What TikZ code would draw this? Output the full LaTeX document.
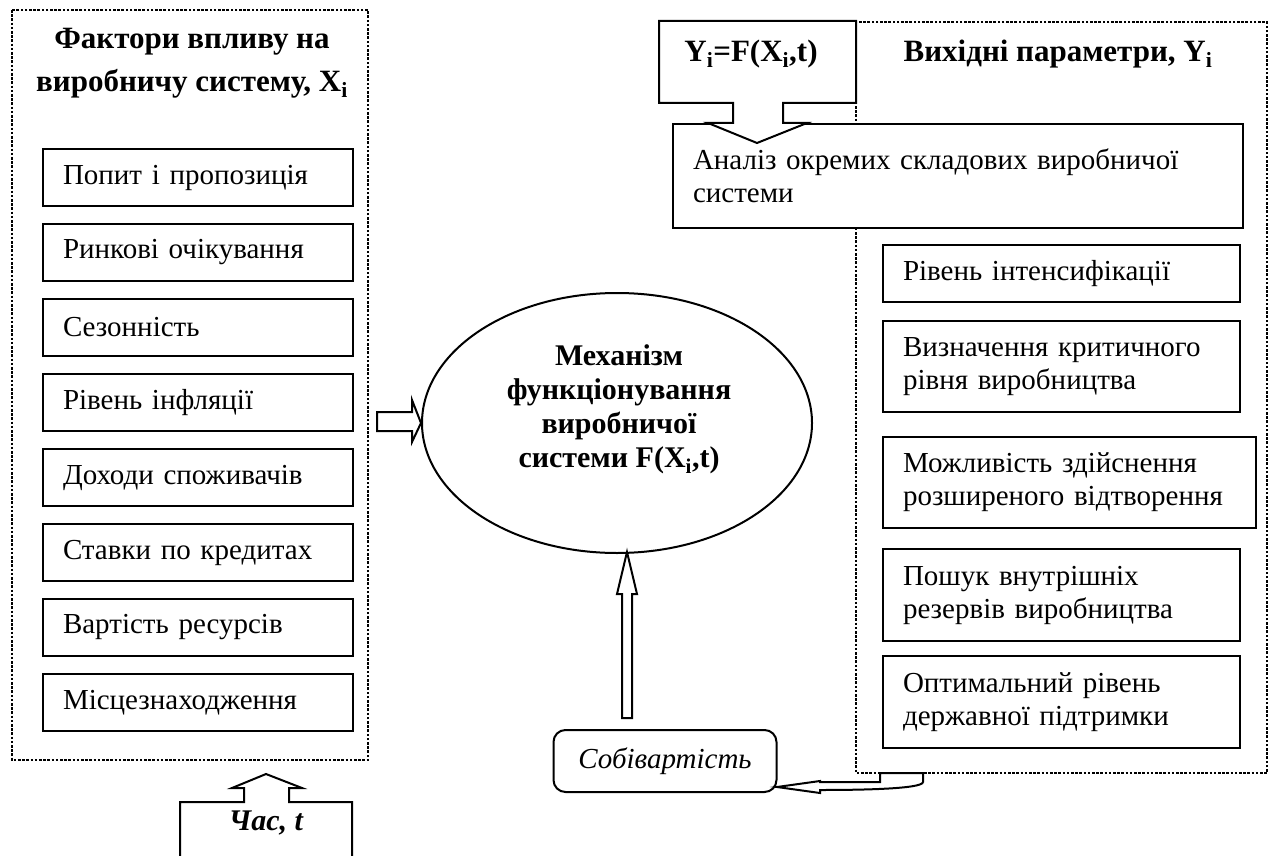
\documentclass[tikz,border=0pt]{standalone}
\usepackage{fontspec}
\setmainfont{Liberation Serif}
\usetikzlibrary{shapes.geometric}

\newcommand\low[1]{\textsubscript{#1}}
\newcommand\txtsz{\fontsize{29}{33}\selectfont}
\newcommand\ttlsz{\fontsize{31}{43}\selectfont\bfseries}

\tikzset{
  frame/.style={draw, line width=2.6pt, dash pattern=on 2.6pt off 1.6pt},
  factor/.style={draw, line width=2pt, anchor=north west, minimum width=310pt,
    minimum height=57pt, text width=270pt, inner xsep=20pt, inner ysep=0pt,
    align=left, font=\txtsz},
  outbox/.style={factor, minimum width=357pt, text width=317pt},
  title/.style={align=center, inner sep=0pt, font=\ttlsz},
  hollow/.style={draw, fill=white, line width=2pt},
}

\begin{document}
\begin{tikzpicture}[x=1pt, y=-1pt, line join=miter]
\useasboundingbox (0,0) rectangle (1274,856);
% рамки
\draw[frame] (12,10) rectangle (368,760);
\draw[frame] (856,22) rectangle (1267,773);
% фактори впливу
\node[title] (inTitle) at (192,63) {Фактори впливу на\\виробничу систему, X\low{i}};
\foreach \t [count=\k from 0] in {Попит і пропозиція, Ринкові очікування,
    Сезонність, Рівень інфляції, Доходи споживачів, Ставки по кредитах,
    Вартість ресурсів, Місцезнаходження}
  \node[factor] (f\k) at (42,148+75*\k) {\t};
% механізм
\node[ellipse, draw, line width=2pt, minimum width=390pt, minimum height=260pt,
  inner sep=0pt] (mech) at (617,423) {};
\node[title, font=\fontsize{30}{34}\selectfont\bfseries] (mechText) at (619,409)
  {Механізм\\функціонування\\виробничої\\системи F(X\low{i},t)};
% вихідні параметри
\node[title] (outTitle) at (1058,54) {Вихідні параметри, Y\low{i}};
\node[outbox, minimum height=57pt] (o1) at (882,244) {Рівень інтенсифікації};
\node[outbox, minimum height=91pt] (o2) at (882,320) {Визначення критичного\\рівня виробництва};
\node[outbox, minimum height=91pt, minimum width=373pt, text width=333pt] (o3) at (882,436)
  {Можливість здійснення\\розширеного відтворення};
\node[outbox, minimum height=92pt] (o4) at (882,548) {Пошук внутрішніх\\резервів виробництва};
\node[outbox, minimum height=92pt] (o5) at (882,655) {Оптимальний рівень\\державної підтримки};
\node[factor, fill=white, minimum width=570pt, minimum height=104pt, text width=530pt]
  (analysis) at (672,123) {Аналіз окремих складових виробничої\\системи};
% виноска Y
\draw[hollow] (659,21) -- (856,21) -- (856,103) -- (783,103) -- (783,123) -- (807,123)
  -- (757,143) -- (708,123) -- (733,123) -- (733,103) -- (659,103) -- cycle;
\node[title] (yf) at (751,54) {Y\low{i}=F(X\low{i},t)};
% стрілки
\draw[hollow] (377,412) -- (412,412) -- (412,400) -- (mech.west) -- (412,442)
  -- (412,431) -- (377,431) -- cycle;
\draw[hollow] (622,718) -- (622,594) -- (617,594) -- (627,552) -- (637,594)
  -- (632,594) -- (632,718) -- cycle;
\node[draw, line width=2pt, rounded corners=12pt, minimum width=223pt, minimum height=62pt,
  font=\txtsz\itshape] (cost) at (665,761) {Собівартість};
\draw[hollow] (880,773) -- (923,773) -- (923,782) .. controls (923,789) and (860,790)
  .. (820,790) -- (820,793) -- (777,787) -- (820,781) -- (820,782) -- (880,782) -- cycle;
% час
\draw[line width=2pt] (180,856) -- (180,802) -- (244,802) -- (244,788) -- (232,788)
  -- (266,774) -- (302,788) -- (289,788) -- (289,802) -- (352,802) -- (352,856);
\node[title, font=\fontsize{30}{34}\selectfont\bfseries\itshape] (time) at (266,823) {Час, t};
\end{tikzpicture}
\end{document}
